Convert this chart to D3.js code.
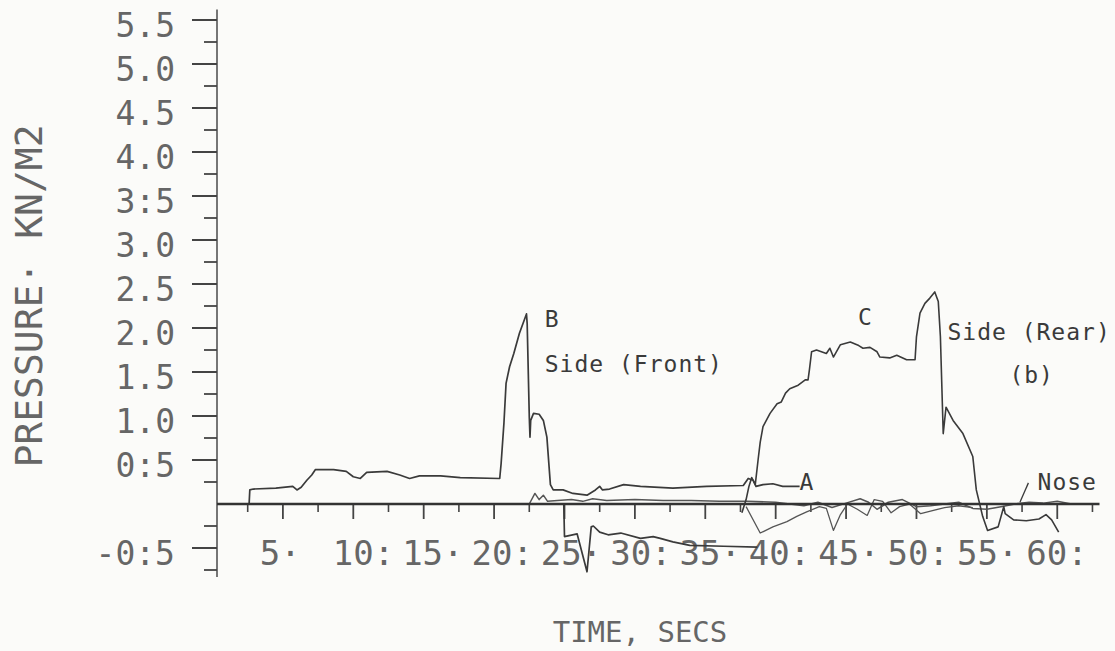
<!DOCTYPE html>
<html><head><meta charset="utf-8">
<script src="https://cdn.jsdelivr.net/npm/d3@7"></script>
<style>
html,body{margin:0;padding:0;background:#fbfbf9;}
svg{display:block;}
</style>
</head><body>
<svg id="chart" width="1115" height="651"></svg>
<script>
// ---------------- data ----------------
const yTickValues = [-0.5, 0.5, 1.0, 1.5, 2.0, 2.5, 3.0, 3.5, 4.0, 4.5, 5.0, 5.5];
const yTickLabels = ["-0:5", "0:5", "1.0", "1.5", "2.0", "2.5", "3.0", "3:5", "4.0", "4.5", "5.0", "5.5"];
const yMinorTicks = [-0.75, -0.25, 0.25, 0.75, 1.25, 1.75, 2.25, 2.75, 3.25, 3.75, 4.25, 4.75, 5.25];
const xTickValues = [5, 10, 15, 20, 25, 30, 35, 40, 45, 50, 55, 60];
const xTickLabels = ["5·", "10:", "15·", "20:", "25·", "30:", "35·", "40:", "45·", "50:", "55·", "60:"];
const xMinorTicks = [2.5, 7.5, 12.5, 17.5, 22.5, 27.5, 32.5, 37.5, 42.5, 47.5, 52.5, 57.5, 62.5];

// Side (Front) gauge B, tail labelled A  [time s, pressure kN/m2]
const sideFront = [[2.6,0],[2.65,0.16],[2.9,0.17],[4.5,0.18],[5.7,0.20],[6.0,0.16],[6.3,0.19],[6.7,0.27],
  [7.05,0.33],[7.3,0.39],[8.6,0.39],[9.5,0.37],[10.0,0.31],[10.5,0.29],[10.95,0.36],[12.4,0.37],[13.3,0.33],
  [14.0,0.29],[14.7,0.32],[16.2,0.32],[17.6,0.30],[20.4,0.29],[20.5,0.46],[20.7,0.92],[20.85,1.37],[21.1,1.56],
  [21.4,1.71],[21.8,1.94],[22.3,2.16],[22.35,2.05],[22.5,0.99],[22.55,0.76],[22.6,0.95],[22.8,1.03],[23.2,1.02],
  [23.5,0.95],[23.75,0.76],[24.0,0.22],[24.2,0.16],[24.9,0.16],[25.6,0.12],[26.6,0.10],[27.2,0.16],[27.5,0.20],
  [27.7,0.16],[28.2,0.17],[29.2,0.22],[30.4,0.20],[32.7,0.18],[35.1,0.20],[37.7,0.21],[38.05,0.29],[38.4,0.27],
  [38.6,0.20],[39.1,0.22],[39.8,0.23],[40.5,0.20],[41.7,0.20]];

// Side (Rear) gauge C
const sideRear = [[37.6,-0.10],[37.9,0.05],[38.1,0.20],[38.3,0.30],[38.55,0.22],[38.75,0.50],[38.9,0.70],[39.1,0.88],
  [39.6,1.03],[40.1,1.14],[40.4,1.16],[40.7,1.26],[41.0,1.31],[41.6,1.35],[42.1,1.41],[42.3,1.41],[42.4,1.53],
  [42.55,1.73],[42.9,1.75],[43.6,1.71],[43.85,1.77],[44.1,1.67],[44.6,1.81],[45.3,1.84],[45.9,1.80],[46.2,1.77],
  [46.7,1.78],[47.2,1.73],[47.4,1.67],[48.1,1.66],[48.6,1.69],[49.3,1.64],[49.9,1.64],[50.0,1.90],[50.25,2.17],
  [50.6,2.28],[50.95,2.34],[51.3,2.41],[51.55,2.30],[51.7,1.90],[51.9,0.80],[52.1,1.10],[52.6,0.95],[53.3,0.80],
  [54.0,0.54],[54.25,0.16],[54.7,-0.14],[55.05,-0.30],[55.8,-0.26],[56.2,-0.03],[56.3,-0.11],[56.9,-0.18],
  [57.8,-0.19],[58.7,-0.17],[59.2,-0.12],[59.6,-0.18],[60.1,-0.32]];

// negative trace (suction)
const suction = [[24.95,0],[25.0,-0.37],[25.9,-0.34],[26.6,-0.77],[26.9,-0.26],[27.05,-0.25],[27.5,-0.32],
  [28.1,-0.35],[29.0,-0.33],[30.4,-0.39],[31.3,-0.37],[31.8,-0.39],[32.7,-0.43],[33.9,-0.47],[36.3,-0.48],[38.7,-0.49]];

// recovering trace
const recovery = [[37.9,-0.03],[38.9,-0.33],[39.8,-0.26],[40.8,-0.20],[41.5,-0.14],[42.2,-0.09],[43.1,-0.03],
  [43.6,-0.05],[44.1,-0.30],[44.6,-0.12],[45.1,0.0],[45.8,-0.06],[46.5,-0.13],[47.0,0.05],[47.6,0.03],
  [48.2,-0.10],[48.8,-0.03],[49.5,0.0],[50.3,-0.11],[51.0,-0.08],[52.0,-0.04],[53.0,-0.02],[54.0,-0.04]];

// Nose gauge
const nose = [[22.5,0],[22.9,0.12],[23.2,0.05],[23.5,0.10],[23.8,0.03],[24.5,0.04],[25.5,0.05],[26.3,0.03],
  [27,0.06],[28,0.04],[30,0.05],[32,0.04],[34,0.04],[36,0.03],[38,0.03],[40,0.02],[41,0.0],[42,-0.02],
  [43,0.02],[44,-0.04],[45,0.01],[46,0.06],[46.6,0.02],[47.2,-0.06],[48,0.02],[49,0.05],[50,-0.03],
  [51,-0.02],[52,0.0],[53,0.02],[54,-0.05],[55,-0.06],[56,-0.03],[57,0.0],[58,0.02],[59,0.01],[60,0.03],
  [61,0.0],[62.7,0.0]];

const annotations = [
  {text: "B", t: 23.6, p: 2.01},
  {text: "Side (Front)", t: 23.6, p: 1.50},
  {text: "C", t: 45.85, p: 2.03},
  {text: "Side (Rear)", t: 52.2, p: 1.86},
  {text: "(b)", t: 56.6, p: 1.375},
  {text: "A", t: 41.7, p: 0.16},
  {text: "Nose", t: 58.6, p: 0.16}
];

// ---------------- drawing ----------------
const svg = d3.select("#chart");
const x = d3.scaleLinear().domain([0, 63]).range([212.5, 1099.5]);
const y = d3.scaleLinear().domain([-0.5, 5.5]).range([548, 20]);
const axisX = 217;
const ink = "#3a3a3a";
const textInk = "#666";
const plotFont = "'DejaVu Sans Mono', monospace";

// y axis
const gy = svg.append("g");
gy.append("line").attr("x1", axisX).attr("x2", axisX)
  .attr("y1", y(5.62)).attr("y2", y(-0.83))
  .attr("stroke", "#555").attr("stroke-width", 1.6);
gy.selectAll("line.major").data(yTickValues).join("line").attr("class", "major")
  .attr("x1", axisX - 25).attr("x2", axisX).attr("y1", d => y(d)).attr("y2", d => y(d))
  .attr("stroke", "#444").attr("stroke-width", 2);
gy.selectAll("line.minor").data(yMinorTicks).join("line").attr("class", "minor")
  .attr("x1", axisX - 13).attr("x2", axisX).attr("y1", d => y(d)).attr("y2", d => y(d))
  .attr("stroke", "#444").attr("stroke-width", 1.8);
gy.selectAll("text").data(yTickValues).join("text")
  .attr("x", 175).attr("y", d => y(d) + 5)
  .attr("text-anchor", "end").attr("dominant-baseline", "central")
  .attr("font-family", plotFont).attr("font-size", 33).attr("fill", textInk)
  .text((d, i) => yTickLabels[i]);

// y title
svg.append("text")
  .attr("transform", "translate(42,296) rotate(-90)")
  .attr("text-anchor", "middle")
  .attr("font-family", plotFont).attr("font-size", 38).attr("fill", textInk)
  .text("PRESSURE· KN/M2");

// x ticks
const gx = svg.append("g");
gx.selectAll("line.major").data(xTickValues).join("line").attr("class", "major")
  .attr("x1", d => x(d)).attr("x2", d => x(d)).attr("y1", y(0)).attr("y2", y(0) + 15)
  .attr("stroke", "#444").attr("stroke-width", 1.8);
gx.selectAll("line.minor").data(xMinorTicks).join("line").attr("class", "minor")
  .attr("x1", d => x(d)).attr("x2", d => x(d)).attr("y1", y(0)).attr("y2", y(0) + 8)
  .attr("stroke", "#444").attr("stroke-width", 1.6);
const pitch = 20.5;
gx.selectAll("text").data(xTickValues).join("text")
  .attr("x", (d, i) => {
    const nd = xTickLabels[i].length - 1;
    const cx = x(d) - 0.21 * (d - 10) - (d < 10 ? 14 : 0);
    return cx - nd * pitch / 2;
  })
  .attr("y", 565)
  .attr("text-anchor", "start")
  .attr("font-family", plotFont).attr("font-size", 34).attr("fill", textInk)
  .text((d, i) => xTickLabels[i]);

// x title
svg.append("text").attr("x", 640).attr("y", 642).attr("text-anchor", "middle")
  .attr("font-family", plotFont).attr("font-size", 29).attr("fill", textInk)
  .text("TIME, SECS");

// traces
const line = d3.line().x(d => x(d[0])).y(d => y(d[1]));
const traces = [
  {data: nose, w: 1.5, c: "#555"},
  {data: recovery, w: 1.3, c: "#555"},
  {data: suction, w: 1.7, c: ink},
  {data: sideRear, w: 1.6, c: ink},
  {data: sideFront, w: 1.7, c: ink}
];
svg.append("g").selectAll("path").data(traces).join("path")
  .attr("d", d => line(d.data))
  .attr("fill", "none").attr("stroke", d => d.c).attr("stroke-width", d => d.w)
  .attr("stroke-linejoin", "round");

// x axis (heavy zero line)
svg.append("line").attr("x1", axisX).attr("x2", x(63))
  .attr("y1", y(0)).attr("y2", y(0))
  .attr("stroke", "#333").attr("stroke-width", 2.6);

// annotations
svg.append("g").selectAll("text").data(annotations).join("text")
  .attr("x", d => x(d.t)).attr("y", d => y(d.p))
  .attr("font-family", plotFont).attr("font-size", 23).attr("letter-spacing", 1)
  .attr("fill", "#3a3a3a")
  .text(d => d.text);

// nose pointer
svg.append("line")
  .attr("x1", x(57.35)).attr("y1", y(0.02)).attr("x2", x(57.95)).attr("y2", y(0.24))
  .attr("stroke", ink).attr("stroke-width", 1.3);
</script>
</body></html>
